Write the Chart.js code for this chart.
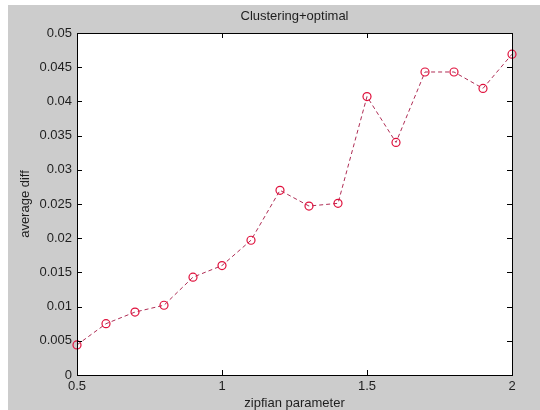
<!DOCTYPE html>
<html>
<head>
<meta charset="utf-8">
<script src="https://cdn.jsdelivr.net/npm/chart.js@4/dist/chart.umd.min.js"></script>
<style>
  html, body { margin: 0; padding: 0; background: #ffffff; width: 540px; height: 410px; overflow: hidden; }
  #wrap { position: absolute; left: 8px; top: 5px; width: 532px; height: 405px; background: #cccccc; }
</style>
</head>
<body>
<div id="wrap"><canvas id="c" width="532" height="405"></canvas></div>
<script>
// ---- data ----
const zipfParams = [0.5, 0.6, 0.7, 0.8, 0.9, 1.0, 1.1, 1.2, 1.3, 1.4, 1.5, 1.6, 1.7, 1.8, 1.9, 2.0];
const avgDiff    = [0.0044, 0.0075, 0.0092, 0.0102, 0.0143, 0.0160, 0.0197, 0.0270, 0.0247, 0.0251, 0.0407, 0.0340, 0.0443, 0.0443, 0.0419, 0.0469];
const xTicks = [0.5, 1, 1.5, 2];
const yTicks = [0, 0.005, 0.01, 0.015, 0.02, 0.025, 0.03, 0.035, 0.04, 0.045, 0.05];
const chartTitle = 'Clustering+optimal';
const xLabel = 'zipfian parameter';
const yLabel = 'average diff';

const FONT = 'Arial, "Liberation Sans", sans-serif';
const TXT = '#1e1e1e';

const framePlugin = {
  id: 'frame',
  beforeDatasetsDraw(chart) {
    const {ctx, chartArea: a} = chart;
    ctx.save();
    ctx.fillStyle = '#ffffff';
    ctx.fillRect(a.left, a.top, a.right - a.left, a.bottom - a.top);
    ctx.restore();
  },
  afterDatasetsDraw(chart) {
    const {ctx, chartArea: a, scales} = chart;
    const L = 5;
    ctx.save();
    ctx.strokeStyle = '#000000';
    ctx.lineWidth = 1;
    ctx.beginPath();
    xTicks.forEach(v => {
      const x = Math.round(scales.x.getPixelForValue(v)) + 0.5;
      ctx.moveTo(x, a.bottom); ctx.lineTo(x, a.bottom - L);
      ctx.moveTo(x, a.top); ctx.lineTo(x, a.top + L);
    });
    yTicks.forEach(v => {
      const y = Math.round(scales.y.getPixelForValue(v)) + 0.5;
      ctx.moveTo(a.left, y); ctx.lineTo(a.left + L, y);
      ctx.moveTo(a.right, y); ctx.lineTo(a.right - L, y);
    });
    ctx.stroke();
    ctx.strokeRect(Math.round(a.left) + 0.5, Math.round(a.top) + 0.5,
                   Math.round(a.right - a.left), Math.round(a.bottom - a.top));
    ctx.restore();
  }
};

new Chart(document.getElementById('c'), {
  type: 'scatter',
  data: {
    datasets: [{
      data: zipfParams.map((x, i) => ({x: x, y: avgDiff[i]})),
      showLine: true,
      borderColor: 'rgb(175,45,85)',
      borderWidth: 1,
      borderDash: [4, 3],
      pointStyle: 'circle',
      pointRadius: 4,
      pointBorderWidth: 1.2,
      pointBorderColor: '#e0103c',
      pointBackgroundColor: 'rgba(0,0,0,0)',
      tension: 0,
      clip: false
    }]
  },
  options: {
    responsive: false,
    animation: false,
    events: [],
    layout: { padding: { left: 0, right: 28, top: 0, bottom: 0 } },
    plugins: {
      legend: { display: false },
      tooltip: { enabled: false },
      title: {
        display: true,
        text: chartTitle,
        fullSize: false,
        color: TXT,
        font: { family: FONT, size: 13, weight: 'normal' },
        padding: { top: 4, bottom: 8.4 }
      }
    },
    scales: {
      x: {
        type: 'linear',
        min: 0.5, max: 2,
        afterBuildTicks(s) { s.ticks = xTicks.map(v => ({value: v})); },
        afterFit(s) { s.height = 35; },
        grid: { display: false, drawTicks: false },
        border: { display: false },
        ticks: {
          color: TXT, padding: 4,
          font: { family: FONT, size: 13 },
          maxRotation: 0,
          callback: v => String(Number(v.toFixed(3)))
        },
        title: {
          display: true, text: xLabel, color: TXT,
          font: { family: FONT, size: 13 },
          padding: { top: 0, bottom: -1 }
        }
      },
      y: {
        type: 'linear',
        min: 0, max: 0.05,
        afterBuildTicks(s) { s.ticks = yTicks.map(v => ({value: v})); },
        afterFit(s) { s.width = 69; },
        grid: { display: false, drawTicks: false },
        border: { display: false },
        ticks: {
          color: TXT, padding: 5,
          font: { family: FONT, size: 13 },
          callback: v => String(Number(v.toFixed(3)))
        },
        title: {
          display: true, text: yLabel, color: TXT,
          font: { family: FONT, size: 13 },
          padding: { top: 10, bottom: 0 }
        }
      }
    }
  },
  plugins: [framePlugin]
});
</script>
</body>
</html>
